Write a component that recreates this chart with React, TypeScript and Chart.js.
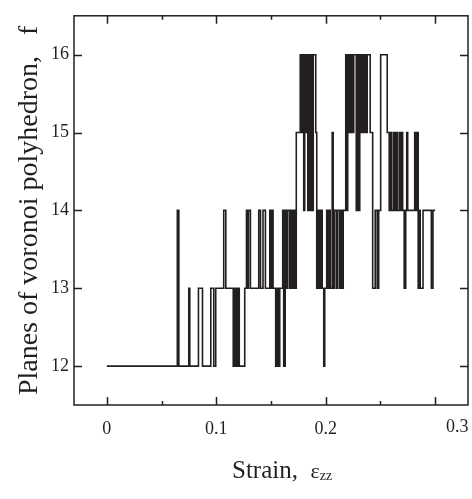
import React, { useEffect, useRef } from "react";
import { Chart, registerables } from "chart.js";

Chart.register(...registerables);

// ---- data ----
const strain = [
  0, 0.0644, 0.0658, 0.0749, 0.0758, 0.0837, 0.0874, 0.095, 0.0977, 0.0995,
  0.1068, 0.1087, 0.1155, 0.1169, 0.1183, 0.1196, 0.121, 0.126, 0.1276, 0.1288,
  0.1294, 0.1312, 0.1388, 0.1404, 0.1427, 0.1449, 0.1489, 0.15, 0.1507, 0.1519,
  0.1543, 0.1557, 0.1566, 0.158, 0.1607, 0.1616, 0.163, 0.1644, 0.1653, 0.1671,
  0.168, 0.1694, 0.1703, 0.1717, 0.1731, 0.1767, 0.1781, 0.1785, 0.1799, 0.1808,
  0.1817, 0.1822, 0.1836, 0.1845, 0.1854, 0.1868, 0.1877, 0.1886, 0.1909, 0.1918,
  0.1927, 0.1941, 0.1954, 0.1968, 0.1982, 0.1991, 0.2009, 0.2018, 0.2027, 0.2041,
  0.2059, 0.2068, 0.2082, 0.21, 0.211, 0.2128, 0.2137, 0.2151, 0.216, 0.2183,
  0.2192, 0.2201, 0.221, 0.2219, 0.2228, 0.2237, 0.2247, 0.2256, 0.2279, 0.2288,
  0.2297, 0.2311, 0.2324, 0.2333, 0.2347, 0.2356, 0.237, 0.2379, 0.2406, 0.2429,
  0.2452, 0.247, 0.2484, 0.2502, 0.2562, 0.258, 0.2594, 0.2603, 0.2621, 0.263,
  0.2639, 0.2653, 0.2671, 0.268, 0.2689, 0.2703, 0.2717, 0.2731, 0.274, 0.2749,
  0.2813, 0.2822, 0.2831, 0.2845, 0.2854, 0.2863, 0.2889, 0.2965, 0.298, 0.3,
];

const planes = [
  12, 14, 12, 13, 12, 13, 12, 13, 12, 13,
  14, 13, 12, 13, 12, 13, 12, 13, 14, 13,
  14, 13, 14, 13, 14, 13, 14, 13, 14, 13,
  12, 13, 12, 13, 14, 12, 14, 13, 14, 13,
  14, 13, 14, 13, 15, 16, 15, 16, 14, 16,
  15, 16, 14, 16, 14, 16, 14, 16, 15, 13,
  14, 13, 14, 13, 12, 13, 14, 13, 14, 13,
  15, 13, 14, 13, 14, 13, 14, 13, 14, 16,
  14, 16, 15, 16, 15, 16, 15, 16, 14, 16,
  14, 16, 15, 16, 15, 16, 15, 16, 15, 13,
  14, 13, 14, 16, 15, 14, 15, 14, 15, 14,
  15, 14, 15, 14, 15, 14, 13, 14, 15, 14,
  15, 14, 15, 13, 14, 13, 14, 13, 14, 14,
];

const xTickValues = [0, 0.1, 0.2, 0.3];
const xTickLabels = ["0", "0.1", "0.2", "0.3"];
const xMinorTickValues = [0.05, 0.15, 0.25];
const yTickValues = [12, 13, 14, 15, 16];
const yTickLabels = ["12", "13", "14", "15", "16"];

const xTitleText = "Strain,  ";
const xTitleSymbol = "\u03b5";
const xTitleSubscript = "zz";
const yTitleText = "Planes of voronoi polyhedron,   f";

const INK = "#231f20";
const FONT = "'Liberation Serif', 'Times New Roman', serif";

const framePlugin = {
  id: "frameAndTicks",
  afterDraw(chart: any) {
    const { ctx, chartArea: a, scales } = chart;
    const xs = scales.x;
    const ys = scales.y;
    ctx.save();
    ctx.strokeStyle = INK;
    ctx.lineWidth = 1.5;
    ctx.strokeRect(a.left, a.top, a.right - a.left, a.bottom - a.top);
    ctx.beginPath();
    const major = 8;
    const minor = 4;
    xTickValues.forEach((v) => {
      const px = Math.round(xs.getPixelForValue(v)) + 0.5;
      ctx.moveTo(px, a.bottom);
      ctx.lineTo(px, a.bottom - major);
      ctx.moveTo(px, a.top);
      ctx.lineTo(px, a.top + major);
    });
    xMinorTickValues.forEach((v) => {
      const px = Math.round(xs.getPixelForValue(v)) + 0.5;
      ctx.moveTo(px, a.bottom);
      ctx.lineTo(px, a.bottom - minor);
      ctx.moveTo(px, a.top);
      ctx.lineTo(px, a.top + minor);
    });
    yTickValues.forEach((v) => {
      const py = Math.round(ys.getPixelForValue(v)) + 0.5;
      ctx.moveTo(a.left, py);
      ctx.lineTo(a.left + major, py);
      ctx.moveTo(a.right, py);
      ctx.lineTo(a.right - major, py);
    });
    ctx.stroke();

    // last x tick label sits to the right of its tick in the reference
    ctx.fillStyle = INK;
    ctx.font = `18px ${FONT}`;
    ctx.textAlign = "center";
    ctx.textBaseline = "top";
    ctx.fillText(
      xTickLabels[3],
      xs.getPixelForValue(xTickValues[3]) + 22,
      a.bottom + 13
    );

    // x axis title with subscript
    ctx.textAlign = "left";
    ctx.textBaseline = "alphabetic";
    let tx = 232;
    const ty = 478;
    ctx.font = `25px ${FONT}`;
    ctx.fillText(xTitleText, tx, ty);
    tx += ctx.measureText(xTitleText).width;
    ctx.font = `22px ${FONT}`;
    ctx.fillText(xTitleSymbol, tx, ty);
    tx += ctx.measureText(xTitleSymbol).width;
    ctx.font = `14px ${FONT}`;
    ctx.fillText(xTitleSubscript, tx, ty + 2);
    ctx.restore();
  },
};

export default function App() {
  const ref = useRef<HTMLCanvasElement>(null);

  useEffect(() => {
    const chart = new Chart(ref.current as HTMLCanvasElement, {
      type: "line",
      data: {
        datasets: [
          {
            data: strain.map((s, i) => ({ x: s, y: planes[i] })),
            borderColor: INK,
            borderWidth: 1.6,
            pointRadius: 0,
            stepped: true,
            fill: false,
          },
        ],
      },
      options: {
        animation: false,
        responsive: false,
        devicePixelRatio: 1,
        layout: { padding: { left: 0, top: 12, right: 4, bottom: 0 } },
        plugins: {
          legend: { display: false },
          tooltip: { enabled: false },
        },
        scales: {
          x: {
            type: "linear",
            min: -0.03,
            max: 0.33,
            grid: { display: false, drawTicks: false },
            border: { display: false },
            afterBuildTicks: (scale: any) => {
              scale.ticks = xTickValues.map((v) => ({ value: v }));
            },
            afterFit: (scale: any) => {
              scale.height = 94;
            },
            ticks: {
              padding: 13,
              maxRotation: 0,
              color: INK,
              font: { family: FONT, size: 18 },
              callback: (v: any, i: number) => (i < 3 ? xTickLabels[i] : ""),
            },
          },
          y: {
            type: "linear",
            min: 11.5,
            max: 16.5,
            grid: { display: false, drawTicks: false },
            border: { display: false },
            afterBuildTicks: (scale: any) => {
              scale.ticks = yTickValues.map((v) => ({ value: v }));
            },
            afterFit: (scale: any) => {
              scale.width = 74;
            },
            ticks: {
              padding: 5,
              color: INK,
              font: { family: FONT, size: 18 },
              callback: (v: any, i: number) => yTickLabels[i],
            },
            title: {
              display: true,
              text: yTitleText,
              color: INK,
              font: { family: FONT, size: 28 },
              padding: { top: 13, bottom: 0 },
            },
          },
        },
      },
      plugins: [framePlugin],
    });
    return () => chart.destroy();
  }, []);

  return (
    <div
      style={{
        position: "absolute",
        left: 0,
        top: 0,
        width: 472,
        height: 499,
        background: "#fff",
      }}
    >
      <canvas
        ref={ref}
        width={472}
        height={499}
        style={{ display: "block", width: 472, height: 499 }}
      />
    </div>
  );
}
